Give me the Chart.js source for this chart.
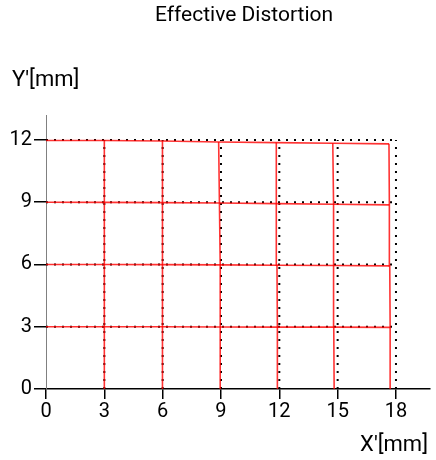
<!DOCTYPE html>
<html lang="en">
<head>
    <meta charset="UTF-8">
    <title>Effective Distortion</title>
    <script src="https://cdn.jsdelivr.net/npm/chart.js"></script>
    <style>
        body { margin: 0; background: #fff; }
    </style>
</head>
<body>
    <canvas id="myChart" width="436" height="460"></canvas>

    <script>
        // nominal grid (mm)
        const gridX = [0, 3, 6, 9, 12, 15, 18];
        const gridY = [0, 3, 6, 9, 12];

        // measured image positions, rows follow gridY, columns follow gridX
        const measX = [
            [0, 3.0, 6.0, 8.98, 11.9, 14.82, 17.72],
            [0, 3.0, 6.0, 8.97, 11.9, 14.8, 17.7],
            [0, 3.0, 5.99, 8.95, 11.88, 14.8, 17.68],
            [0, 3.0, 5.99, 8.92, 11.86, 14.78, 17.66],
            [0, 3.0, 5.98, 8.88, 11.83, 14.75, 17.64]
        ];
        const measY = [
            [0, 0, 0, 0, 0, 0, 0],
            [3.0, 3.0, 3.0, 2.99, 2.98, 2.98, 2.97],
            [6.0, 6.0, 5.99, 5.98, 5.96, 5.95, 5.93],
            [9.0, 8.99, 8.98, 8.96, 8.93, 8.9, 8.87],
            [11.97, 11.97, 11.95, 11.9, 11.87, 11.84, 11.81]
        ];

        const FONT = 'Roboto, "DejaVu Sans", sans-serif';
        const datasets = [];

        // dotted nominal grid
        const dotted = { borderColor: '#000', borderWidth: 2, borderDash: [2, 6], pointRadius: 0, showLine: true, order: 2 };
        gridY.slice(1).forEach(y => {
            datasets.push(Object.assign({ data: [{ x: 0, y: y }, { x: gridX[gridX.length - 1], y: y }] }, dotted));
        });
        gridX.slice(1).forEach(x => {
            datasets.push(Object.assign({ data: [{ x: x, y: 0 }, { x: x, y: gridY[gridY.length - 1] }] }, dotted));
        });

        // red measured grid
        const red = { borderColor: 'rgba(255,0,0,0.8)', borderWidth: 1.6, pointRadius: 0, showLine: true, order: 1 };
        for (let i = 1; i < gridY.length; i++) {
            datasets.push(Object.assign({ data: gridX.map((_, j) => ({ x: measX[i][j], y: measY[i][j] })) }, red));
        }
        for (let j = 1; j < gridX.length; j++) {
            datasets.push(Object.assign({ data: gridY.map((_, i) => ({ x: measX[i][j], y: measY[i][j] })) }, red));
        }

        // title and axis names drawn by hand (title is a bit right of centre, Y' sits above the axis)
        const texts = {
            id: 'texts',
            afterDraw(chart) {
                const ctx = chart.ctx;
                const a = chart.chartArea;
                ctx.save();
                ctx.fillStyle = '#000';
                ctx.textBaseline = 'middle';
                ctx.font = '21px ' + FONT;
                ctx.textAlign = 'center';
                ctx.fillText('Effective Distortion', 244, 16);
                ctx.font = '22px ' + FONT;
                ctx.textAlign = 'left';
                ctx.fillText("Y'[mm]", 12, a.top - 35);
                ctx.textAlign = 'right';
                ctx.fillText("X'[mm]", a.right - 2, a.bottom + 56);
                ctx.restore();
            }
        };

        const ctx = document.getElementById('myChart').getContext('2d');
        const chart = new Chart(ctx, {
            type: 'scatter',
            data: { datasets: datasets },
            plugins: [texts],
            options: {
                responsive: false,
                animation: false,
                devicePixelRatio: 1,
                layout: { padding: { left: 0, right: 6, top: 115, bottom: 0 } },
                plugins: {
                    legend: { display: false },
                    tooltip: { enabled: false },
                    title: { display: false }
                },
                scales: {
                    x: {
                        type: 'linear',
                        min: 0,
                        max: 19.75,
                        afterBuildTicks: s => { s.ticks = gridX.map(v => ({ value: v })); },
                        afterFit: s => { s.height = 71; },
                        ticks: { color: '#000', font: { family: FONT, size: 20 }, padding: 1, maxRotation: 0 },
                        grid: { drawOnChartArea: false, drawTicks: true, tickLength: 10, color: '#000', lineWidth: 1.5 },
                        border: { color: '#000', width: 1.5 }
                    },
                    y: {
                        type: 'linear',
                        min: 0,
                        max: 13.2,
                        afterBuildTicks: s => { s.ticks = gridY.map(v => ({ value: v })); },
                        afterFit: s => { s.width = 46; },
                        ticks: { color: '#000', font: { family: FONT, size: 20 }, padding: 2 },
                        grid: { drawOnChartArea: false, drawTicks: true, tickLength: 12, color: '#000', lineWidth: 1.5 },
                        border: { color: '#808080', width: 1 }
                    }
                }
            }
        });
    </script>
</body>
</html>
